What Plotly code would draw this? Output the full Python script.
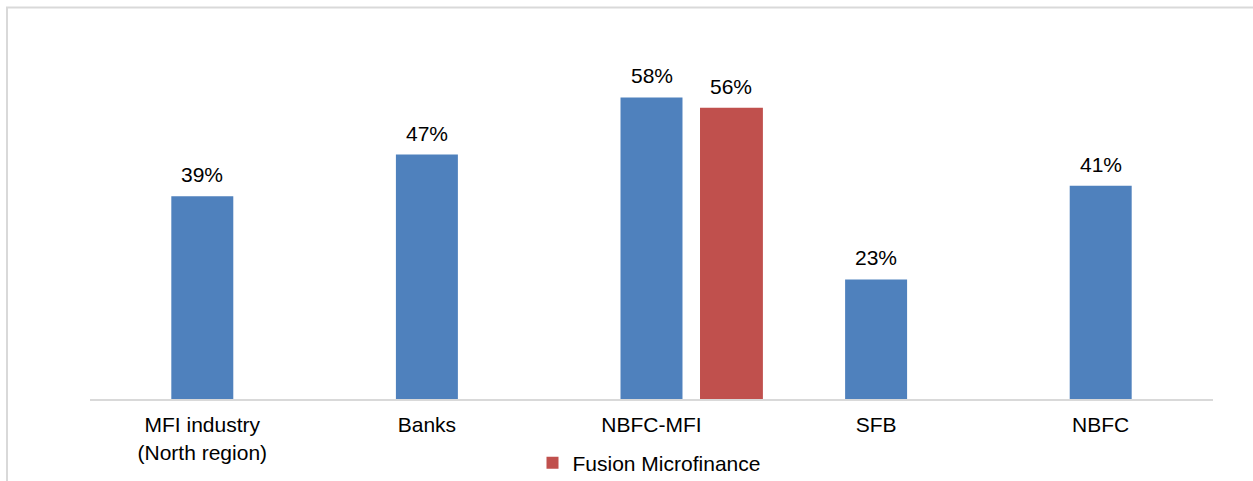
import plotly.graph_objects as go

# Share of portfolio by lender type (%)
categories = ["MFI industry<br>(North region)", "Banks", "NBFC-MFI", "SFB", "NBFC"]
segment_values = [39, 47, 58, 23, 41]

fusion_category = ["NBFC-MFI"]
fusion_values = [56]
fusion_name = "Fusion Microfinance"

BLUE = "#4f81bd"
RED = "#c0504d"
FONT = "Arial, 'Liberation Sans', sans-serif"
FRAME = "#d9d9d9"
FS = 21

BLUE_W, RED_W, RED_OFFSET = 0.276, 0.28, 0.216

fig = go.Figure()

fig.add_trace(go.Bar(
    x=categories,
    y=segment_values,
    width=BLUE_W,
    marker=dict(color=BLUE, line=dict(width=0)),
    showlegend=False,
    hoverinfo="skip",
))

fig.add_trace(go.Bar(
    x=fusion_category,
    y=fusion_values,
    width=RED_W,
    offset=RED_OFFSET,
    name=fusion_name,
    marker=dict(color=RED, line=dict(width=0)),
    showlegend=True,
    hoverinfo="skip",
))

# Value labels above each bar
annotations = []
for c, v in zip(categories, segment_values):
    annotations.append(dict(
        x=c, y=v, xref="x", yref="y", text=f"{v}%", showarrow=False,
        yanchor="bottom", yshift=8, font=dict(family=FONT, size=FS, color="#000000"),
    ))
for c, v in zip(fusion_category, fusion_values):
    annotations.append(dict(
        x=c, y=v, xref="x", yref="y", text=f"{v}%", showarrow=False,
        xshift=(RED_OFFSET + RED_W / 2) * 224.6,
        yanchor="bottom", yshift=8, font=dict(family=FONT, size=FS, color="#000000"),
    ))

# Plot area spans 90..1213 px horizontally and 35..399 px vertically
L, R, T, B = 90, 40, 35, 82
W, H = 1253, 481
pw, ph = W - L - R, H - T - B

def px_x(px):
    return (px - L) / pw

def px_y(py):
    return (H - B - py) / ph

fig.update_layout(
    width=W,
    height=H,
    margin=dict(l=L, r=R, t=T, b=B, autoexpand=False),
    paper_bgcolor="white",
    plot_bgcolor="white",
    barmode="overlay",
    font=dict(family=FONT, size=FS, color="#000000"),
    xaxis=dict(
        type="category",
        showline=True,
        linecolor=FRAME,
        linewidth=2,
        showgrid=False,
        ticks="",
        ticklabelstandoff=6,
        automargin=False,
        tickfont=dict(family=FONT, size=FS, color="#000000"),
        fixedrange=True,
    ),
    yaxis=dict(
        range=[0, 70],
        visible=False,
        showgrid=False,
        zeroline=False,
        fixedrange=True,
    ),
    legend=dict(
        orientation="h",
        x=px_x(649),
        xanchor="center",
        y=px_y(463),
        yanchor="middle",
        font=dict(family=FONT, size=FS, color="#000000"),
        bgcolor="rgba(0,0,0,0)",
        itemwidth=30,
    ),
    annotations=annotations,
    shapes=[
        dict(
            type="path",
            xref="paper",
            yref="paper",
            path=f"M {px_x(7)} {px_y(490)} L {px_x(7)} {px_y(7.5)} L {px_x(1260)} {px_y(7.5)}",
            line=dict(color=FRAME, width=2),
            layer="below",
        )
    ],
)

fig.write_html("out.html")
